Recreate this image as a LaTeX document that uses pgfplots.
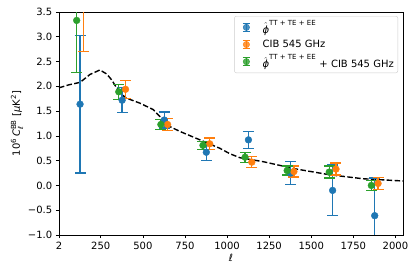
\documentclass[border=0pt]{standalone}
\usepackage{fontspec}
\setmainfont{DejaVu Sans}
\usepackage{amsmath}
\usepackage{pgfplots}
\usepackage{pgfplotstable}
\pgfplotsset{compat=1.18}
\definecolor{tabblue}{HTML}{1F77B4}
\definecolor{taborange}{HTML}{FF7F0E}
\definecolor{tabgreen}{HTML}{2CA02C}
\pgfplotstableread{
x y e
127 1.64 1.39
377 1.72 0.25
627 1.32 0.16
877 0.67 0.17
1127 0.92 0.17
1377 0.25 0.23
1627 -0.10 0.51
1877 -0.61 0.76
}\blueT
\pgfplotstableread{
x y e
147 3.75 1.05
397 1.94 0.18
647 1.23 0.12
897 0.84 0.12
1147 0.47 0.11
1397 0.28 0.11
1647 0.33 0.12
1897 0.04 0.12
}\orangeT
\pgfplotstableread{
x y e
107 3.33 1.05
357 1.89 0.15
607 1.23 0.10
857 0.81 0.08
1107 0.57 0.10
1357 0.30 0.09
1607 0.27 0.12
1857 0.00 0.10
}\greenT
\pgfplotstableread{
x y
2 1.97
60 2.03
127 2.08
186 2.24
245 2.33
285 2.25
315 2.13
364 1.86
404 1.76
483 1.66
562 1.53
601 1.39
641 1.22
720 1.09
839 0.92
957 0.75
1017 0.64
1076 0.56
1214 0.48
1413 0.33
1610 0.215
1808 0.135
2045 0.09
}\theoryT
\begin{document}
\begin{tikzpicture}[font=\fontsize{10}{12}\selectfont]
\useasboundingbox (-59pt,-41pt) rectangle (357pt,235pt);
\begin{axis}[
  scale only axis, width=344pt, height=223pt,
  xmin=2, xmax=2045, ymin=-1, ymax=3.5,
  xtick={2,250,500,750,1000,1250,1500,1750,2000},
  xticklabels={2,250,500,750,1000,1250,1500,1750,2000},
  ytick={-1,-0.5,0,0.5,1,1.5,2,2.5,3,3.5},
  yticklabels={−1.0,−0.5,0.0,0.5,1.0,1.5,2.0,2.5,3.0,3.5},
  tick align=outside, tick pos=left,
  major tick length=3.2pt,
  every tick/.style={black, line width=0.7pt},
  axis line style={line width=0.7pt},
  xlabel={\textit{ℓ}},
  ylabel={10\textsuperscript{6}\,\textit{C}$_{\text{\itshape ℓ}}^{\text{BB}}$ [\textit{μ}K\textsuperscript{2}]},
  xlabel style={yshift=2pt},
  ylabel style={yshift=-2pt},
  errleg/.style={legend image code/.code={
     \path[draw=none,fill=none] (0cm,0cm) rectangle (0.85cm,0.01cm);
     \draw[#1,line width=1.3pt] (0.35cm,-0.14cm) -- (0.35cm,0.14cm);
     \draw[#1,line width=1.3pt] (0.23cm,0.14cm) -- (0.47cm,0.14cm);
     \draw[#1,line width=1.3pt] (0.23cm,-0.14cm) -- (0.47cm,-0.14cm);
     \fill[#1] (0.35cm,0cm) circle (3.2pt);}},
  legend style={at={(1,1)}, anchor=north east, xshift=-5pt, yshift=-4pt,
     draw=black!20, rounded corners=2pt, fill=white, fill opacity=0.8, text opacity=1,
     font=\fontsize{10}{12}\selectfont, row sep=1.5pt, inner sep=2pt},
  legend cell align=left,
]
\addlegendimage{errleg=tabblue}
\addlegendentry{$\hat{\text{\itshape ϕ}}^{\text{TT + TE + EE}}$}
\addlegendimage{errleg=taborange}
\addlegendentry{CIB 545 GHz}
\addlegendimage{errleg=tabgreen}
\addlegendentry{$\hat{\text{\itshape ϕ}}^{\text{TT + TE + EE}}$ + CIB 545 GHz}

\addplot[black, dashed, line width=1.4pt, dash pattern=on 5.5pt off 2.4pt, forget plot] table[x=x,y=y]{\theoryT};

\addplot[only marks, mark=*, mark size=3.4pt, tabblue, forget plot,
  error bars/.cd, y dir=both, y explicit,
  error bar style={line width=1.3pt, tabblue},
  error mark options={line width=1.3pt, mark size=5.5pt, rotate=90, tabblue}]
  table[x=x,y=y,y error=e]{\blueT};
\addplot[only marks, mark=*, mark size=3.4pt, taborange, forget plot,
  error bars/.cd, y dir=both, y explicit,
  error bar style={line width=1.3pt, taborange},
  error mark options={line width=1.3pt, mark size=5.5pt, rotate=90, taborange}]
  table[x=x,y=y,y error=e]{\orangeT};
\addplot[only marks, mark=*, mark size=3.4pt, tabgreen, forget plot,
  error bars/.cd, y dir=both, y explicit,
  error bar style={line width=1.3pt, tabgreen},
  error mark options={line width=1.3pt, mark size=5.5pt, rotate=90, tabgreen}]
  table[x=x,y=y,y error=e]{\greenT};
\end{axis}
\end{tikzpicture}
\end{document}
